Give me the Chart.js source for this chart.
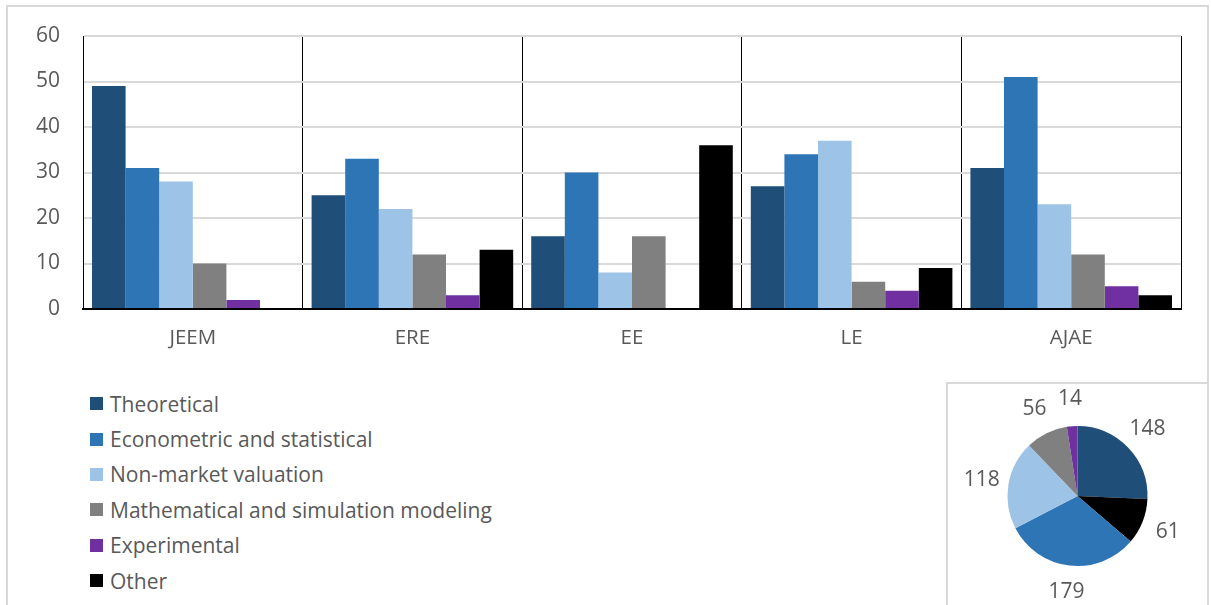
<!DOCTYPE html>
<html>
<head>
<meta charset="utf-8">
<script src="https://cdn.jsdelivr.net/npm/chart.js@4.4.1/dist/chart.umd.min.js"></script>
<style>
body { margin: 0; background: #fff; width: 1211px; height: 605px; overflow: hidden; position: relative; font-family: "Open Sans", sans-serif; }
#frame { position: absolute; left: 6px; top: 5px; width: 1203px; height: 620px; border: 2px solid #d9d9d9; box-sizing: border-box; }
#pieBox { position: absolute; left: 946px; top: 382px; width: 263px; height: 240px; border: 2px solid #d9d9d9; box-sizing: border-box; }
#barCanvas { position: absolute; left: 0; top: 0; }
#pieCanvas { position: absolute; left: 947px; top: 383px; }
#legend { position: absolute; left: 90px; top: 386px; margin: 0; padding: 0; list-style: none; }
#legend li { height: 35.4px; display: flex; align-items: center; font-size: 21px; color: #595959; white-space: nowrap; }
#legend span.sw { display: inline-block; width: 13px; height: 13px; margin-right: 7px; }
</style>
</head>
<body>
<div id="frame"></div>
<canvas id="barCanvas" width="1211" height="362"></canvas>
<ul id="legend"></ul>
<div id="pieBox"></div>
<canvas id="pieCanvas" width="261" height="222"></canvas>
<script>
var journals = ['JEEM', 'ERE', 'EE', 'LE', 'AJAE'];
var seriesNames = ['Theoretical', 'Econometric and statistical', 'Non-market valuation',
  'Mathematical and simulation modeling', 'Experimental', 'Other'];
var seriesColors = ['#1f4e79', '#2e75b6', '#9dc3e6', '#808080', '#7030a0', '#000000'];

var theoretical = [49, 25, 16, 27, 31];
var econometric = [31, 33, 30, 34, 51];
var nonMarket = [28, 22, 8, 37, 23];
var mathematical = [10, 12, 16, 6, 12];
var experimental = [2, 3, 0, 4, 5];
var other = [0, 13, 36, 9, 3];

var yTicks = [0, 10, 20, 30, 40, 50, 60];

// pie totals, in the order the slices run clockwise from the top
var pieOrder = ['Theoretical', 'Other', 'Econometric and statistical', 'Non-market valuation',
  'Mathematical and simulation modeling', 'Experimental'];
var pieTotals = [148, 61, 179, 118, 56, 14];

var textColor = '#595959';
var fontFamily = '"Open Sans", sans-serif';

var allSeries = [theoretical, econometric, nonMarket, mathematical, experimental, other];

// legend
var legend = document.getElementById('legend');
seriesNames.forEach(function(name, i) {
  var li = document.createElement('li');
  li.innerHTML = '<span class="sw" style="background:' + seriesColors[i] + '"></span>' + name;
  legend.appendChild(li);
});

new Chart(document.getElementById('barCanvas'), {
  type: 'bar',
  data: {
    labels: journals,
    datasets: allSeries.map(function(vals, i) {
      return {
        label: seriesNames[i],
        data: vals,
        backgroundColor: seriesColors[i],
        borderWidth: 0,
        categoryPercentage: 0.918,
        barPercentage: 1
      };
    })
  },
  options: {
    responsive: false,
    animation: false,
    layout: { padding: { top: 36, right: 30, left: 0, bottom: 0 } },
    plugins: { legend: { display: false }, tooltip: { enabled: false } },
    scales: {
      x: {
        offset: true,
        grid: { display: true, offset: true, color: '#000', lineWidth: 1, drawTicks: false },
        border: { display: true, color: '#000', width: 2 },
        ticks: { color: textColor, padding: 17, font: { family: fontFamily, size: 20.5 } },
        afterFit: function(s) { s.height = 53; }
      },
      y: {
        min: 0,
        max: 60,
        afterBuildTicks: function(s) { s.ticks = yTicks.map(function(v) { return { value: v }; }); },
        grid: { color: '#d9d9d9', lineWidth: 2, drawTicks: false },
        border: { display: true, color: '#000', width: 1 },
        ticks: { color: textColor, padding: 23, font: { family: fontFamily, size: 21 } },
        afterFit: function(s) { s.width = 83; }
      }
    }
  }
});

var pieLabels = {
  id: 'pieLabels',
  afterDatasetsDraw: function(chart) {
    var ctx = chart.ctx;
    var meta = chart.getDatasetMeta(0);
    ctx.save();
    ctx.fillStyle = textColor;
    ctx.font = '21px ' + fontFamily;
    ctx.textAlign = 'center';
    ctx.textBaseline = 'middle';
    meta.data.forEach(function(arc, i) {
      var p = arc.getProps(['x', 'y', 'startAngle', 'endAngle', 'outerRadius'], true);
      var mid = (p.startAngle + p.endAngle) / 2;
      var r = p.outerRadius + 27;
      ctx.fillText(String(chart.data.datasets[0].data[i]), p.x + Math.cos(mid) * r, p.y + Math.sin(mid) * r);
    });
    ctx.restore();
  }
};

new Chart(document.getElementById('pieCanvas'), {
  type: 'pie',
  data: {
    labels: pieOrder,
    datasets: [{
      data: pieTotals,
      backgroundColor: pieOrder.map(function(n) { return seriesColors[seriesNames.indexOf(n)]; }),
      borderWidth: 0
    }]
  },
  options: {
    responsive: false,
    animation: false,
    radius: 70,
    layout: { padding: { top: 4 } },
    plugins: { legend: { display: false }, tooltip: { enabled: false } }
  },
  plugins: [pieLabels]
});
</script>
</body>
</html>
